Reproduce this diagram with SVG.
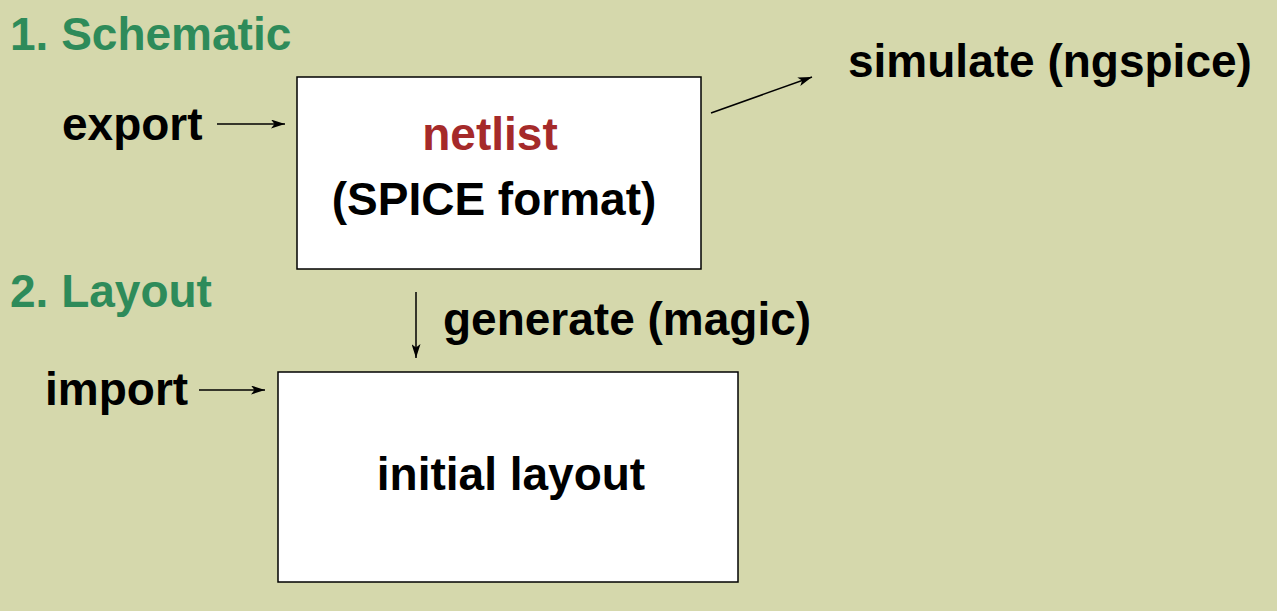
<svg xmlns="http://www.w3.org/2000/svg" width="1277" height="611" viewBox="0 0 1277 611">
<style>
text{font-family:"Liberation Sans",Arial,sans-serif;font-weight:bold;font-size:46px;fill:#000}
.title{fill:#2e8b5a}
.red{fill:#a52a2a}
.box{fill:#fff;stroke:#000;stroke-width:1.5}
.conn{stroke:#000;stroke-width:1.5;fill:none;marker-end:url(#ah)}
</style>
<defs>
<marker id="ah" viewBox="0 0 14 9" refX="14" refY="4.5" markerWidth="14" markerHeight="9" markerUnits="userSpaceOnUse" orient="auto">
<path d="M0,0 L14,4.5 L0,9 L3.5,4.5 Z" fill="#000"/>
</marker>
</defs>
<rect width="1277" height="611" fill="#d5d8ac"/>
<g id="heading1"><text class="title" x="10" y="50">1. Schematic</text></g>
<g id="heading2"><text class="title" x="10" y="307">2. Layout</text></g>
<g id="export"><text x="62" y="140">export</text></g>
<g id="import"><text x="45" y="405">import</text></g>
<g id="netlist">
<rect class="box" x="297" y="77" width="404" height="192"/>
<text class="red" x="490" y="150" text-anchor="middle">netlist</text>
<text x="494" y="215" text-anchor="middle">(SPICE format)</text>
</g>
<g id="simulate"><text x="848" y="77">simulate (ngspice)</text></g>
<g id="generate"><text x="443" y="335">generate (magic)</text></g>
<g id="layout">
<rect class="box" x="278" y="372" width="460" height="210"/>
<text x="511" y="490" text-anchor="middle">initial layout</text>
</g>
<g id="connectors">
<line class="conn" x1="217" y1="124" x2="285" y2="124"/>
<line class="conn" x1="711" y1="113" x2="812" y2="77"/>
<line class="conn" x1="416" y1="292" x2="416" y2="358"/>
<line class="conn" x1="199" y1="390" x2="265" y2="390"/>
</g>
</svg>
